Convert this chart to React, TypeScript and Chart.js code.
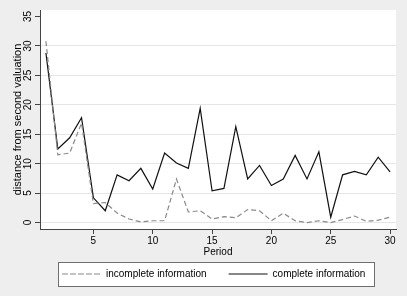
import React, { useEffect, useRef } from "react";
import { Chart, registerables } from "chart.js";

Chart.register(...registerables);

const periods = [1,2,3,4,5,6,7,8,9,10,11,12,13,14,15,16,17,18,19,20,21,22,23,24,25,26,27,28,29,30];
const incompleteInfo = [30.8,11.5,11.8,16.9,3.2,3.4,1.6,0.6,0.1,0.3,0.3,7.4,1.8,2.0,0.6,1.0,0.8,2.2,2.0,0.3,1.6,0.3,0.0,0.3,0.0,0.5,1.1,0.2,0.4,0.9];
const completeInfo = [28.8,12.5,14.4,17.8,4.2,2.0,8.1,7.1,9.2,5.7,11.8,10.1,9.2,19.4,5.4,5.8,16.3,7.4,9.7,6.3,7.4,11.4,7.4,12.0,0.9,8.1,8.7,8.1,11.1,8.6];
const xTicks = [5,10,15,20,25,30];
const yTicks = [0,5,10,15,20,25,30,35];
const seriesNames = ["incomplete information", "complete information"];

const FONT = "'Liberation Sans', Arial, Helvetica, sans-serif";

const bgPlugin = {
  id: "bgPlugin",
  beforeDraw(chart: any) {
    const { ctx, chartArea } = chart;
    ctx.save();
    ctx.fillStyle = "#ffffff";
    ctx.fillRect(chartArea.left, chartArea.top, chartArea.right - chartArea.left, chartArea.bottom - chartArea.top);
    const lg = chart.legend;
    if (lg && lg.legendHitBoxes && lg.legendHitBoxes.length) {
      const hb = lg.legendHitBoxes;
      const first = hb[0];
      const last = hb[hb.length - 1];
      const cy = first.top + first.height / 2;
      const l = Math.round(first.left - 4) + 0.5;
      const r = Math.round(last.left + last.width + 9) + 0.5;
      const t = Math.round(cy - 12) + 0.5;
      const b = Math.round(cy + 12) + 0.5;
      ctx.fillStyle = "#ffffff";
      ctx.fillRect(l, t, r - l, b - t);
      ctx.strokeStyle = "#6e6e6e";
      ctx.lineWidth = 1;
      ctx.strokeRect(l, t, r - l, b - t);
    }
    ctx.restore();
  },
};

export default function App() {
  const ref = useRef<HTMLCanvasElement | null>(null);
  useEffect(() => {
    document.body.style.margin = "0";
    const canvas = ref.current;
    if (!canvas) return;
    const chart = new Chart(canvas, {
      type: "line",
      data: {
        datasets: [
          {
            label: seriesNames[0],
            data: periods.map((p, i) => ({ x: p, y: incompleteInfo[i] })),
            borderColor: "#8a8a8a",
            backgroundColor: "transparent",
            borderDash: [5, 3],
            borderWidth: 1.2,
            pointRadius: 0,
            tension: 0,
          },
          {
            label: seriesNames[1],
            data: periods.map((p, i) => ({ x: p, y: completeInfo[i] })),
            borderColor: "#111111",
            backgroundColor: "transparent",
            borderWidth: 1.2,
            pointRadius: 0,
            tension: 0,
          },
        ],
      },
      options: {
        animation: false,
        responsive: false,
        devicePixelRatio: 1,
        layout: { padding: { top: 10, right: 11, left: 0, bottom: 7 } },
        plugins: {
          tooltip: { enabled: false },
          legend: {
            position: "bottom",
            align: "start",
            fullSize: false,
            labels: {
              boxWidth: 39,
              boxHeight: 0,
              padding: 22,
              color: "#000",
              font: { family: FONT, size: 10 },
            },
          },
        },
        scales: {
          x: {
            type: "linear",
            min: 0.5,
            max: 30.5,
            afterBuildTicks: (s: any) => {
              s.ticks = xTicks.map((v) => ({ value: v }));
            },
            afterFit: (s: any) => {
              s.height = 18;
            },
            grid: {
              drawOnChartArea: false,
              drawTicks: true,
              tickLength: 5,
              color: "#444",
              tickColor: "#444",
            },
            border: { display: true, color: "#444", width: 1 },
            ticks: {
              color: "#000",
              padding: 1,
              maxRotation: 0,
              autoSkip: false,
              font: { family: FONT, size: 10 },
            },
            title: {
              display: true,
              text: "Period",
              color: "#000",
              font: { family: FONT, size: 10 },
              padding: { top: 0, bottom: -11 },
            },
          },
          y: {
            type: "linear",
            min: -1.1,
            max: 36.1,
            afterBuildTicks: (s: any) => {
              s.ticks = yTicks.map((v) => ({ value: v }));
            },
            afterFit: (s: any) => {
              s.width = 40;
            },
            grid: {
              drawTicks: true,
              tickLength: 5,
              color: (c: any) => (c.tick && c.tick.value === 35 ? "rgba(0,0,0,0)" : "#e6e6e6"),
              tickColor: "#444",
            },
            border: { display: true, color: "#444", width: 1 },
            ticks: {
              color: "#000",
              padding: 1.5,
              minRotation: 90,
              maxRotation: 90,
              crossAlign: "center",
              autoSkip: false,
              font: { family: FONT, size: 10 },
            },
            title: {
              display: true,
              text: "distance from second valuation",
              color: "#000",
              font: { family: FONT, size: 11 },
              padding: { top: 11, bottom: 0 },
            },
          },
        },
      },
      plugins: [bgPlugin],
    } as any);
    return () => chart.destroy();
  }, []);
  return (
    <div style={{ width: 407, height: 296, background: "#eeeeee" }}>
      <canvas ref={ref} width={407} height={296} style={{ display: "block" }} />
    </div>
  );
}
